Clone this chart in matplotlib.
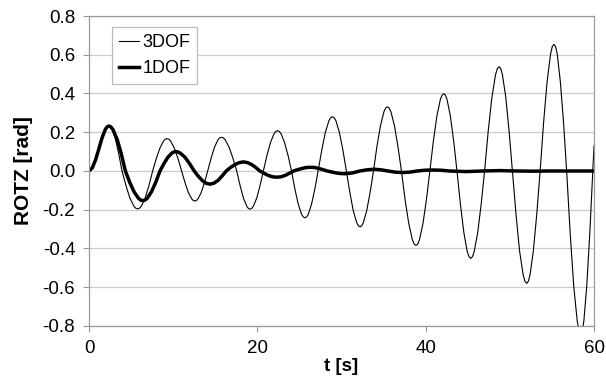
"""ROTZ time history, 3DOF vs 1DOF model."""

import matplotlib
matplotlib.use("Agg")
import matplotlib.pyplot as plt

# values
t_3dof = [0, 0.39, 0.78, 1.18, 1.57, 1.96, 2.16, 2.35, 2.55,
          2.74, 3.14, 3.53, 3.92,
          4.39, 4.85, 5.32, 5.55, 5.78, 6.0,
          6.23, 6.67, 7.12, 7.56,
          7.99, 8.42, 8.84, 9.06, 9.27, 9.49,
          9.70, 10.14, 10.57, 11.0,
          11.4, 11.79, 12.19, 12.38, 12.58, 12.77,
          12.96, 13.34, 13.72, 14.1,
          14.51, 14.91, 15.32, 15.52, 15.72, 15.95,
          16.18, 16.64, 17.09, 17.55,
          17.95, 18.34, 18.74, 18.93, 19.13, 19.33,
          19.53, 19.93, 20.32, 20.72,
          21.14, 21.56, 21.98, 22.19, 22.4, 22.61,
          22.82, 23.23, 23.65, 24.06,
          24.46, 24.86, 25.26, 25.46, 25.66, 25.86,
          26.05, 26.44, 26.83, 27.22,
          27.65, 28.07, 28.5, 28.71, 28.92, 29.13,
          29.34, 29.75, 30.17, 30.58,
          30.99, 31.39, 31.8, 32.0, 32.2, 32.4,
          32.6, 33.0, 33.4, 33.8,
          34.21, 34.63, 35.04, 35.24, 35.45, 35.66,
          35.87, 36.29, 36.7, 37.12,
          37.55, 37.99, 38.42, 38.63, 38.85, 39.06,
          39.26, 39.68, 40.09, 40.5,
          40.91, 41.33, 41.74, 41.94, 42.15, 42.35,
          42.54, 42.94, 43.33, 43.72,
          44.13, 44.54, 44.94, 45.15, 45.35, 45.56,
          45.76, 46.18, 46.59, 47.0,
          47.43, 47.87, 48.3, 48.51, 48.73, 48.93,
          49.12, 49.52, 49.91, 50.3,
          50.73, 51.15, 51.58, 51.79, 52.0, 52.2,
          52.4, 52.8, 53.2, 53.6,
          54.01, 54.43, 54.84, 55.04, 55.25, 55.44,
          55.63, 56.0, 56.38, 56.75,
          57.17, 57.59, 58.01, 58.22, 58.43, 58.61,
          58.79, 59.14, 59.5, 59.85,
          60.0]
rotz_3dof = [0, 0.016, 0.058, 0.116, 0.174, 0.217, 0.228, 0.232, 0.228,
             0.214, 0.164, 0.089, 0,
             -0.075, -0.139, -0.181, -0.192, -0.196, -0.192,
             -0.181, -0.139, -0.075, 0,
             0.064, 0.118, 0.154, 0.164, 0.167, 0.164,
             0.154, 0.118, 0.064, 0,
             -0.059, -0.110, -0.143, -0.152, -0.155, -0.152,
             -0.143, -0.110, -0.059, 0,
             0.067, 0.123, 0.161, 0.171, 0.174, 0.171,
             0.161, 0.123, 0.067, 0,
             -0.075, -0.139, -0.182, -0.193, -0.197, -0.193,
             -0.182, -0.139, -0.075, 0,
             0.080, 0.147, 0.192, 0.204, 0.208, 0.204,
             0.192, 0.147, 0.080, 0,
             -0.093, -0.171, -0.224, -0.237, -0.242, -0.237,
             -0.224, -0.171, -0.093, 0,
             0.107, 0.198, 0.259, 0.275, 0.280, 0.275,
             0.259, 0.198, 0.107, 0,
             -0.110, -0.204, -0.266, -0.283, -0.288, -0.283,
             -0.266, -0.204, -0.110, 0,
             0.127, 0.234, 0.306, 0.325, 0.331, 0.325,
             0.306, 0.234, 0.127, 0,
             -0.147, -0.271, -0.355, -0.377, -0.384, -0.377,
             -0.355, -0.271, -0.147, 0,
             0.153, 0.282, 0.369, 0.391, 0.399, 0.391,
             0.369, 0.282, 0.153, 0,
             -0.173, -0.319, -0.417, -0.442, -0.451, -0.442,
             -0.417, -0.319, -0.173, 0,
             0.206, 0.380, 0.497, 0.528, 0.538, 0.528,
             0.497, 0.380, 0.206, 0,
             -0.222, -0.410, -0.536, -0.569, -0.580, -0.569,
             -0.536, -0.410, -0.222, 0,
             0.250, 0.462, 0.604, 0.642, 0.654, 0.642,
             0.604, 0.462, 0.250, 0,
             -0.322, -0.594, -0.776, -0.824, -0.84, -0.824,
             -0.776, -0.594, -0.322, 0,
             0.13]

t_1dof = [0, 0.39, 0.78, 1.18, 1.57, 1.96, 2.16, 2.35, 2.6,
          2.84, 3.34, 3.83, 4.32,
          4.84, 5.36, 5.88, 6.14, 6.4, 6.65,
          6.91, 7.41, 7.92, 8.43,
          8.9, 9.37, 9.83, 10.07, 10.3, 10.58,
          10.85, 11.4, 11.95, 12.5,
          12.96, 13.43, 13.89, 14.35,
          14.84, 15.33, 15.81, 16.3,
          16.81, 17.33, 17.84, 18.35,
          18.84, 19.33, 19.81, 20.3,
          20.8, 21.3, 21.8, 22.3,
          22.8, 23.3, 23.8, 24.3,
          24.8, 25.3, 25.8, 26.3,
          26.8, 27.3, 27.8, 28.3,
          28.82, 29.35, 29.88, 30.4,
          31.3, 32.2, 33.0, 33.9, 34.7, 35.5, 36.4, 37.3, 38.1, 39.0,
          39.9, 40.9, 41.8, 42.8, 44.8, 46.8, 48.8, 50.8, 52.8, 54.8, 60.0]
rotz_1dof = [0, 0.016, 0.058, 0.116, 0.174, 0.217, 0.228, 0.232, 0.228,
             0.214, 0.164, 0.089, 0,
             -0.059, -0.108, -0.141, -0.150, -0.153, -0.150,
             -0.141, -0.108, -0.059, 0,
             0.038, 0.071, 0.092, 0.098, 0.100, 0.098,
             0.092, 0.071, 0.038, 0,
             -0.026, -0.048, -0.063, -0.068,
             -0.063, -0.048, -0.026, 0,
             0.018, 0.033, 0.043, 0.047,
             0.043, 0.033, 0.018, 0,
             -0.012, -0.023, -0.030, -0.032,
             -0.030, -0.023, -0.012, 0,
             0.007, 0.013, 0.018, 0.019,
             0.018, 0.013, 0.007, 0,
             -0.005, -0.010, -0.013, -0.014,
             -0.010, 0, 0.006, 0.009, 0.006, 0, -0.006, -0.008, -0.006, 0,
             0.004, 0.005, 0.004, 0, -0.003, 0, 0.002, 0, -0.001, 0, 0]

x_ticks = [0, 20, 40, 60]
y_ticks = [-0.8, -0.6, -0.4, -0.2, 0.0, 0.2, 0.4, 0.6, 0.8]

plt.rcParams["font.family"] = ["Liberation Sans", "DejaVu Sans"]
plt.rcParams["axes.unicode_minus"] = False

fig = plt.figure(figsize=(6.06, 3.81), dpi=100)
ax = fig.add_axes([0.1469, 0.1444, 0.8333, 0.8136])

ax.plot(t_3dof, rotz_3dof, color="black", lw=0.8, label="3DOF")
ax.plot(t_1dof, rotz_1dof, color="black", lw=2.5, label="1DOF")

ax.set_xlim(0, 60)
ax.set_ylim(-0.8, 0.8)
ax.set_xticks(x_ticks)
ax.set_yticks(y_ticks)
ax.set_yticklabels(["%.1f" % v for v in y_ticks])
ax.yaxis.grid(True, color="#cccccc", lw=0.9)
ax.set_axisbelow(True)
for side in ["left", "bottom", "top", "right"]:
    ax.spines[side].set_color("#999999")
    ax.spines[side].set_linewidth(0.9)
ax.tick_params(direction="out", length=4, width=0.8, color="#999999",
               labelsize=13.5, pad=6)

ax.set_xlabel("t [s]", fontsize=13.5, fontweight="bold", labelpad=1)
ax.set_ylabel("ROTZ [rad]", fontsize=15, fontweight="bold", labelpad=7)

leg = ax.legend(loc="upper left", bbox_to_anchor=(0.0455, 0.9645),
                borderaxespad=0, fontsize=13, handlelength=1.1,
                handletextpad=0.2, labelspacing=0.5, borderpad=0.38,
                fancybox=False, framealpha=1)
leg.get_frame().set_edgecolor("#bbbbbb")
leg.get_frame().set_linewidth(0.9)

fig.savefig("out.png", dpi=100)
plt.close(fig)
